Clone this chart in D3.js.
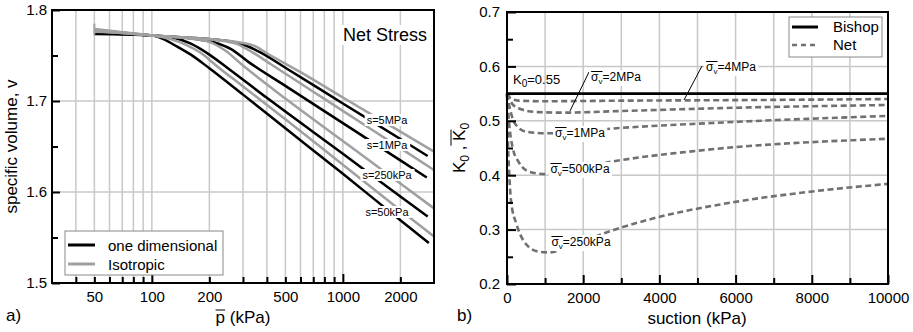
<!DOCTYPE html>
<html>
<head>
<meta charset="utf-8">
<script src="https://cdn.jsdelivr.net/npm/d3@7"></script>
<style>
  body { margin: 0; background: #fff; }
</style>
</head>
<body>
<script>
// ---- panel a) : specific volume vs net mean stress ----
const pLabels = [50, 100, 200, 500, 1000, 2000];
const pGrid = [40, 50, 60, 70, 80, 90, 100, 200, 300, 400, 500, 600, 700, 800, 900, 1000, 2000];
const vLabels = [1.5, 1.6, 1.7, 1.8];
const vMinor = [1.55, 1.65, 1.75];

// one dimensional loading, [p (kPa), v]
const od50  = [[50, 1.7735], [100, 1.772], [115, 1.768], [135, 1.760], [160, 1.751], [200, 1.736], [300, 1.707], [500, 1.670], [1000, 1.620], [2000, 1.569], [2820, 1.544]];
const od250 = [[50, 1.775], [100, 1.772], [130, 1.7695], [160, 1.763], [200, 1.751], [250, 1.736], [400, 1.7035], [1000, 1.642], [2000, 1.595], [2780, 1.573]];
const od1M  = [[50, 1.776], [100, 1.772], [170, 1.768], [215, 1.764], [260, 1.757], [320, 1.743], [500, 1.7166], [1000, 1.6757], [2000, 1.6348], [2750, 1.616]];
const od5M  = [[50, 1.778], [100, 1.772], [250, 1.766], [310, 1.761], [370, 1.7535], [500, 1.7366], [1000, 1.6973], [2000, 1.6582], [2780, 1.6396]];
// isotropic loading
const iso50  = [[50, 1.776], [100, 1.772], [125, 1.768], [150, 1.762], [180, 1.753], [220, 1.738], [300, 1.716], [500, 1.680], [1000, 1.630], [2000, 1.580], [3000, 1.551]];
const iso250 = [[50, 1.777], [100, 1.772], [160, 1.7685], [200, 1.765], [240, 1.756], [300, 1.739], [500, 1.7027], [1000, 1.656], [2000, 1.6093], [3000, 1.582]];
const iso1M  = [[50, 1.778], [100, 1.772], [220, 1.767], [280, 1.7625], [340, 1.7529], [420, 1.7404], [700, 1.7102], [1000, 1.6891], [2000, 1.6482], [3000, 1.6242]];
const iso5M  = [[50, 1.779], [100, 1.772], [290, 1.7643], [345, 1.7605], [400, 1.7525], [600, 1.7317], [1000, 1.7039], [2000, 1.6663], [3000, 1.6443]];
const isoStart = [[50, 1.785], [50, 1.773]];

const suctionLabels = ["s=5MPa", "s=1MPa", "s=250kPa", "s=50kPa"];

// ---- panel b) : K0 vs suction ----
const sLabels = [0, 2000, 4000, 6000, 8000, 10000];
const sTicks = [0, 1000, 2000, 3000, 4000, 5000, 6000, 7000, 8000, 9000, 10000];
const kLabels = [0.2, 0.3, 0.4, 0.5, 0.6, 0.7];
const kMinor = [0.25, 0.35, 0.45, 0.55, 0.65];
const bishopK0 = 0.55;

// net stress K0, [suction (kPa), K0]
const net4M   = [[0, 0.55], [100, 0.541], [300, 0.537], [1000, 0.536], [3000, 0.537], [6000, 0.538], [10000, 0.540]];
const net2M   = [[0, 0.55], [100, 0.535], [300, 0.523], [800, 0.516], [1500, 0.515], [3000, 0.518], [6000, 0.524], [10000, 0.529]];
const net1M   = [[0, 0.55], [60, 0.528], [200, 0.496], [500, 0.480], [1000, 0.477], [3000, 0.487], [6000, 0.498], [10000, 0.509]];
const net500k = [[0, 0.55], [50, 0.50], [150, 0.45], [300, 0.425], [600, 0.406], [1000, 0.402], [2000, 0.415], [2760, 0.425], [5000, 0.445], [10000, 0.467]];
const net250k = [[0, 0.55], [30, 0.45], [60, 0.40], [110, 0.35], [250, 0.31], [450, 0.278], [800, 0.260], [1100, 0.258], [1600, 0.268], [2700, 0.297], [3700, 0.318], [6000, 0.351], [8000, 0.370], [10000, 0.384]];

const W = 913, H = 332;
const FONT = "'Liberation Sans', Arial, Helvetica, sans-serif";
const svg = d3.select("body").append("svg")
    .attr("width", W).attr("height", H)
    .attr("font-family", FONT)
    .style("display", "block");

const gridColor = "#c8c8c8";
const isoColor = "#a0a0a0";
const netColor = "#707070";

function frame(g, x0, y0, x1, y1) {
    g.append("rect")
        .attr("x", x0).attr("y", y0)
        .attr("width", x1 - x0).attr("height", y1 - y0)
        .attr("fill", "none").attr("stroke", "#000").attr("stroke-width", 2);
}

function labelBox(g, x, y, build, size) {
    const t = g.append("text")
        .attr("x", x).attr("y", y)
        .attr("text-anchor", "middle")
        .attr("font-size", size);
    build(t);
    const b = t.node().getBBox();
    g.insert("rect", function(){ return t.node(); })
        .attr("x", b.x - 2).attr("y", b.y)
        .attr("width", b.width + 4).attr("height", b.height)
        .attr("fill", "#fff");
    return t;
}

function overline(g, textNode, i0, i1, dy) {
    const a = textNode.getExtentOfChar(i0), b = textNode.getExtentOfChar(i1);
    g.append("line")
        .attr("x1", a.x).attr("x2", b.x + b.width)
        .attr("y1", a.y + dy).attr("y2", a.y + dy)
        .attr("stroke", "#000").attr("stroke-width", 1);
}

function cleanAxis(g) {
    g.attr("font-family", null).attr("font-size", null);
    g.select(".domain").remove();
    g.selectAll("text").attr("font-size", 15).attr("fill", "#000");
    g.selectAll("line").attr("stroke-width", 2);
}

// ================= panel a =================
const xA = d3.scaleLog().domain([30, 3000]).range([52, 434]);
const yA = d3.scaleLinear().domain([1.5, 1.8]).range([283, 10]);
const gA = svg.append("g");

gA.append("g").selectAll("line").data(pGrid).join("line")
    .attr("x1", d => xA(d)).attr("x2", d => xA(d))
    .attr("y1", yA(1.5)).attr("y2", yA(1.8))
    .attr("stroke", gridColor).attr("stroke-width", 1.5);
gA.append("g").selectAll("line").data([1.6, 1.7]).join("line")
    .attr("x1", xA(30)).attr("x2", xA(3000))
    .attr("y1", d => yA(d)).attr("y2", d => yA(d))
    .attr("stroke", gridColor).attr("stroke-width", 1.5);

const lineA = d3.line().x(d => xA(d[0])).y(d => yA(d[1])).curve(d3.curveMonotoneX);

[od50, od250, od1M, od5M].forEach(c => {
    gA.append("path").attr("d", lineA(c))
        .attr("fill", "none").attr("stroke", "#000").attr("stroke-width", 2.5);
});
[iso50, iso250, iso1M, iso5M].forEach(c => {
    gA.append("path").attr("d", lineA(c))
        .attr("fill", "none").attr("stroke", isoColor).attr("stroke-width", 2.5);
});
gA.append("path").attr("d", d3.line().x(d => xA(d[0])).y(d => yA(d[1]))(isoStart))
    .attr("fill", "none").attr("stroke", isoColor).attr("stroke-width", 2);

// suction labels sit on white boxes over the curves
const sLabelY = [124, 149, 179, 216];
suctionLabels.forEach((s, i) => {
    labelBox(gA, 387, sLabelY[i], t => t.text(s), 11);
});

labelBox(gA, 385, 41, t => t.text("Net Stress"), 18);

// axes, ticks pointing inward
gA.append("g").attr("transform", "translate(0," + yA(1.5) + ")")
    .call(d3.axisBottom(xA).tickValues(pGrid.filter(d => d !== 100 && d !== 1000)).tickSize(-6).tickFormat(""))
    .call(cleanAxis);
gA.append("g").attr("transform", "translate(0," + yA(1.5) + ")")
    .call(d3.axisBottom(xA).tickValues([100, 1000]).tickSize(-9).tickFormat(""))
    .call(cleanAxis);
gA.append("g").attr("transform", "translate(0," + yA(1.5) + ")")
    .call(d3.axisBottom(xA).tickValues(pLabels).tickSize(0).tickPadding(8).tickFormat(d3.format("d")))
    .call(cleanAxis);

gA.append("g").attr("transform", "translate(" + xA(30) + ",0)")
    .call(d3.axisLeft(yA).tickValues(vMinor).tickSize(-6).tickFormat(""))
    .call(cleanAxis);
gA.append("g").attr("transform", "translate(" + xA(30) + ",0)")
    .call(d3.axisLeft(yA).tickValues(vLabels).tickSize(-8).tickPadding(5).tickFormat(d3.format(".1f")))
    .call(cleanAxis);

frame(gA, xA(30), yA(1.8), xA(3000), yA(1.5));

// legend
const legA = gA.append("g");
legA.append("rect").attr("x", 65).attr("y", 231).attr("width", 158).attr("height", 44)
    .attr("fill", "#fff").attr("stroke", "#888").attr("stroke-width", 1);
[["one dimensional", "#000"], ["Isotropic", isoColor]].forEach((d, i) => {
    const y = 245 + i * 19;
    legA.append("line").attr("x1", 68).attr("x2", 95).attr("y1", y).attr("y2", y)
        .attr("stroke", d[1]).attr("stroke-width", 3);
    legA.append("text").attr("x", 108).attr("y", y + 5.5).attr("font-size", 15).text(d[0]);
});

// titles
gA.append("text")
    .attr("transform", "translate(17," + ((yA(1.5) + yA(1.8)) / 2) + ") rotate(-90)")
    .attr("text-anchor", "middle").attr("font-size", 17)
    .text("specific volume, v");
const pTitle = gA.append("text")
    .attr("x", 243).attr("y", 323)
    .attr("text-anchor", "middle").attr("font-size", 17)
    .text("p (kPa)");
overline(gA, pTitle.node(), 0, 0, 2);
gA.append("text").attr("x", 6).attr("y", 321).attr("font-size", 17).text("a)");

// ================= panel b =================
const xB = d3.scaleLinear().domain([0, 10000]).range([507, 888]);
const yB = d3.scaleLinear().domain([0.2, 0.7]).range([284, 12]);
const gB = svg.append("g");

gB.append("g").selectAll("line").data(sTicks.slice(1, -1)).join("line")
    .attr("x1", d => xB(d)).attr("x2", d => xB(d))
    .attr("y1", yB(0.2)).attr("y2", yB(0.7))
    .attr("stroke", gridColor).attr("stroke-width", 1.5);
gB.append("g").selectAll("line").data([0.3, 0.4, 0.5, 0.6]).join("line")
    .attr("x1", xB(0)).attr("x2", xB(10000))
    .attr("y1", d => yB(d)).attr("y2", d => yB(d))
    .attr("stroke", gridColor).attr("stroke-width", 1.5);

const lineB = d3.line().x(d => xB(d[0])).y(d => yB(d[1])).curve(d3.curveMonotoneX);

[net4M, net2M, net1M, net500k, net250k].forEach(c => {
    gB.append("path").attr("d", lineB(c))
        .attr("fill", "none").attr("stroke", netColor).attr("stroke-width", 2.6)
        .attr("stroke-dasharray", "6,3.5");
});
gB.append("line")
    .attr("x1", xB(0)).attr("x2", xB(10000))
    .attr("y1", yB(bishopK0)).attr("y2", yB(bishopK0))
    .attr("stroke", "#000").attr("stroke-width", 2.8);

// sigma_v labels
function sigmaLabel(x, y, rest) {
    const t = labelBox(gB, x, y, t => {
        t.append("tspan").text("σ");
        t.append("tspan").attr("font-size", 8).attr("dy", 3).text("v");
        t.append("tspan").attr("dy", -3).text(rest);
    }, 12);
    overline(gB, t.node(), 0, 1, 1.5);
    return t;
}

// leader lines for the two upper curves
gB.append("line").attr("x1", 589).attr("y1", 72).attr("x2", 570).attr("y2", 111)
    .attr("stroke", "#000").attr("stroke-width", 1);
gB.append("line").attr("x1", 702).attr("y1", 66).attr("x2", 684).attr("y2", 100)
    .attr("stroke", "#000").attr("stroke-width", 1);

sigmaLabel(616, 81, "=2MPa");
sigmaLabel(731, 71, "=4MPa");
sigmaLabel(580, 137, "=1MPa");
sigmaLabel(580, 173, "=500kPa");
sigmaLabel(581, 246, "=250kPa");

const k0 = gB.append("text").attr("x", 513).attr("y", 84).attr("font-size", 13);
k0.append("tspan").text("K");
k0.append("tspan").attr("font-size", 10).attr("dy", 3).text("0");
k0.append("tspan").attr("dy", -3).text("=0.55");

gB.append("g").attr("transform", "translate(0," + yB(0.2) + ")")
    .call(d3.axisBottom(xB).tickValues(sTicks.filter(d => d % 2000 !== 0)).tickSize(-6).tickFormat(""))
    .call(cleanAxis);
gB.append("g").attr("transform", "translate(0," + yB(0.2) + ")")
    .call(d3.axisBottom(xB).tickValues(sLabels).tickSize(-9).tickPadding(8).tickFormat(d3.format("d")))
    .call(cleanAxis);
gB.append("g").attr("transform", "translate(" + xB(0) + ",0)")
    .call(d3.axisLeft(yB).tickValues(kMinor).tickSize(-6).tickFormat(""))
    .call(cleanAxis);
gB.append("g").attr("transform", "translate(" + xB(0) + ",0)")
    .call(d3.axisLeft(yB).tickValues(kLabels).tickSize(-9).tickPadding(7).tickFormat(d3.format(".1f")))
    .call(cleanAxis);

frame(gB, xB(0), yB(0.7), xB(10000), yB(0.2));

// legend
const legB = gB.append("g");
legB.append("rect").attr("x", 789).attr("y", 17).attr("width", 93).attr("height", 40)
    .attr("fill", "#fff").attr("stroke", "#888").attr("stroke-width", 1);
legB.append("line").attr("x1", 792).attr("x2", 818).attr("y1", 27).attr("y2", 27)
    .attr("stroke", "#000").attr("stroke-width", 3);
legB.append("line").attr("x1", 792).attr("x2", 818).attr("y1", 45).attr("y2", 45)
    .attr("stroke", netColor).attr("stroke-width", 2.6).attr("stroke-dasharray", "5,4");
legB.append("text").attr("x", 833).attr("y", 32).attr("font-size", 15).text("Bishop");
legB.append("text").attr("x", 833).attr("y", 50).attr("font-size", 15).text("Net");

// titles
const kCy = (yB(0.2) + yB(0.7)) / 2;
const kTitle = gB.append("text")
    .attr("transform", "translate(465," + kCy + ") rotate(-90)")
    .attr("text-anchor", "middle").attr("font-size", 17);
kTitle.append("tspan").text("K");
kTitle.append("tspan").attr("font-size", 12).attr("dy", 4).text("0");
kTitle.append("tspan").attr("dy", -4).text(" , ");
kTitle.append("tspan").text("K");
kTitle.append("tspan").attr("font-size", 12).attr("dy", 4).text("0");
{
    // overline over the second K0 (rotated text, so draw in local coords)
    const n = kTitle.node();
    const a = n.getExtentOfChar(4), b = n.getExtentOfChar(5);
    gB.append("line")
        .attr("transform", "translate(465," + kCy + ") rotate(-90)")
        .attr("x1", a.x).attr("x2", b.x + b.width)
        .attr("y1", a.y + 1).attr("y2", a.y + 1)
        .attr("stroke", "#000").attr("stroke-width", 1);
}
gB.append("text")
    .attr("x", 697).attr("y", 324)
    .attr("text-anchor", "middle").attr("font-size", 17)
    .text("suction (kPa)");
gB.append("text").attr("x", 457).attr("y", 321).attr("font-size", 17).text("b)");
</script>
</body>
</html>
